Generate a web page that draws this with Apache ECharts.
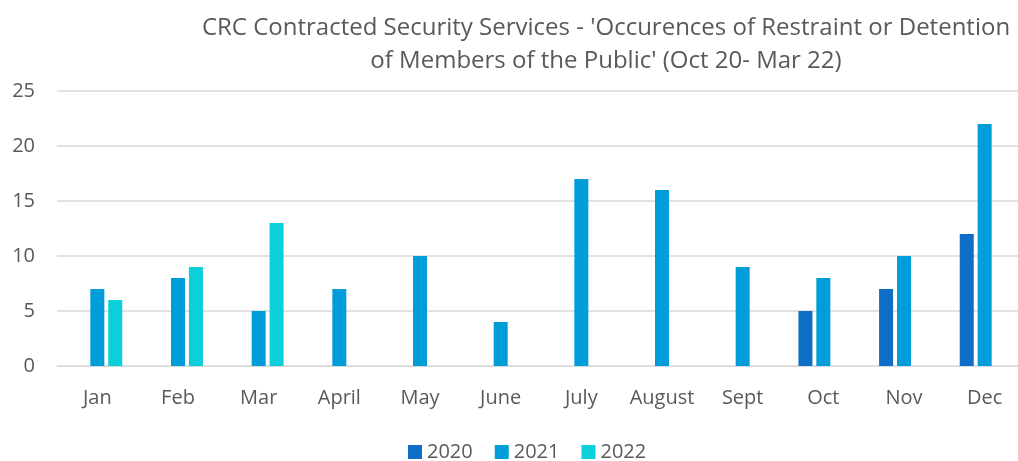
<!DOCTYPE html>
<html>
<head>
<meta charset="utf-8">
<script src="https://cdn.jsdelivr.net/npm/echarts@6/dist/echarts.min.js"></script>
<style>
  html, body { margin: 0; padding: 0; background: #fff; }
  #chart { width: 1018px; height: 461px; }
</style>
</head>
<body>
<div id="chart"></div>
<script>
const months = ["Jan", "Feb", "Mar", "April", "May", "June", "July", "August", "Sept", "Oct", "Nov", "Dec"];
const years = ["2020", "2021", "2022"];
const data2020 = [null, null, null, null, null, null, null, null, null, 5, 7, 12];
const data2021 = [7, 8, 5, 7, 10, 4, 17, 16, 9, 8, 10, 22];
const data2022 = [6, 9, 13, null, null, null, null, null, null, null, null, null];
const colors = ["#0F6FC6", "#009DD9", "#0BD0D9"];

const textColor = "#595959";
const font = "'Open Sans', 'Noto Sans', sans-serif";

const chart = echarts.init(document.getElementById("chart"));

function barSeries(name, data, color) {
  return {
    name,
    type: "bar",
    data,
    barWidth: 14,
    barGap: "28%",
    itemStyle: { color },
  };
}

chart.setOption({
  animation: false,
  title: {
    text: "CRC Contracted Security Services - 'Occurences of Restraint or Detention\nof Members of the Public' (Oct 20- Mar 22)",
    left: 601,
    top: 7,
    textAlign: "center",
    textStyle: {
      color: textColor,
      fontFamily: font,
      fontSize: 24,
      fontWeight: "normal",
      lineHeight: 33,
    },
  },
  legend: {
    data: years,
    top: 437,
    left: 403,
    itemWidth: 14,
    itemHeight: 14,
    itemGap: 22,
    icon: "rect",
    textStyle: { color: textColor, fontFamily: font, fontSize: 20 },
  },
  grid: { left: 57, width: 968, top: 91, bottom: 95, outerBoundsMode: "none" },
  xAxis: {
    type: "category",
    data: months,
    axisLine: { lineStyle: { color: "#D9D9D9" } },
    axisTick: { show: false },
    axisLabel: { color: textColor, fontFamily: font, fontSize: 20, margin: 22, interval: 0 },
  },
  yAxis: {
    type: "value",
    min: 0,
    max: 25,
    interval: 5,
    axisLine: { show: false },
    axisTick: { show: false },
    splitLine: { lineStyle: { color: "#D9D9D9", width: 1.5 } },
    axisLabel: { color: textColor, fontFamily: font, fontSize: 20, margin: 22 },
  },
  series: [
    barSeries(years[0], data2020, colors[0]),
    barSeries(years[1], data2021, colors[1]),
    barSeries(years[2], data2022, colors[2]),
  ],
});
</script>
</body>
</html>
